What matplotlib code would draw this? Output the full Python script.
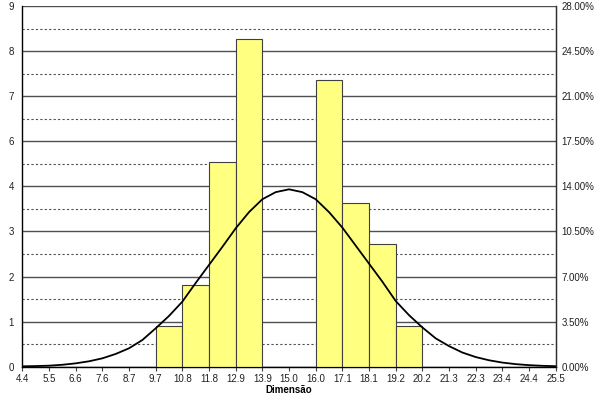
import numpy as np
import matplotlib
matplotlib.use("Agg")
import matplotlib.pyplot as plt
from matplotlib.ticker import FuncFormatter

plt.rcParams['font.family'] = ['Liberation Sans', 'DejaVu Sans']

# category labels along the x axis
x_labels = ['4.4', '5.5', '6.6', '7.6', '8.7', '9.7', '10.8', '11.8', '12.9', '13.9',
            '15.0', '16.0', '17.1', '18.1', '19.2', '20.2', '21.3', '22.3', '23.4',
            '24.4', '25.5']

# histogram: bin start index and frequency
bin_start = [5, 6, 7, 8, 9, 10, 11, 12, 13, 14]
freq = [1, 2, 5, 8, 0, 0, 7, 4, 3, 1]

# left axis labels as printed
left_max = 8.8
left_labels = ['0', '1', '2', '3', '4', '6', '7', '8', '9']

# normal curve (right axis, %), at half-category steps
curve_pos = [i * 0.5 for i in range(41)]
curve_pct = [0.03, 0.05, 0.08, 0.15, 0.26, 0.42, 0.65, 0.99, 1.43, 2.07,
             2.98, 3.94, 5.05, 6.5, 7.9, 9.3, 10.74, 12.0, 13.0, 13.55,
             13.77, 13.55, 13.0, 12.0, 10.8, 9.4, 8.0, 6.6, 5.1, 4.0,
             3.05, 2.2, 1.6, 1.1, 0.75, 0.5, 0.32, 0.2, 0.12, 0.07, 0.04]

fig = plt.figure(figsize=(6.0, 3.97), dpi=100)
ax = fig.add_axes([0.0372, 0.0763, 0.8890, 0.9086])

ax.bar(bin_start, freq, width=1.0, align='edge', color='#FFFF80',
       edgecolor='#404040', linewidth=0.8, zorder=3)

ax.set_xlim(0, 20)
ax.set_ylim(0, left_max)
major = np.linspace(0, left_max, 9)
ax.set_yticks(major)
ax.set_yticklabels(left_labels)
ax.set_yticks((major[:-1] + major[1:]) / 2, minor=True)
ax.grid(axis='y', which='major', color='#505050', linewidth=1.0, zorder=0)
ax.grid(axis='y', which='minor', color='#505050', linewidth=0.8,
        linestyle=(0, (2, 2)), zorder=0)
ax.set_axisbelow(True)

ax.set_xticks(range(len(x_labels)))
ax.set_xticklabels(x_labels)
ax.tick_params(axis='x', which='major', length=3, width=0.8, color='#404040',
               labelsize=7, labelcolor='#202020', pad=2)
ax.tick_params(axis='y', which='both', length=0, labelsize=7,
               labelcolor='#202020', pad=6)
ax.set_xlabel('Dimensão', fontsize=7, fontweight='bold', labelpad=1)

ax.spines['top'].set_visible(False)
for s in ['left', 'right', 'bottom']:
    ax.spines[s].set_color('#303030')
    ax.spines[s].set_linewidth(1.0)

ax2 = ax.twinx()
ax2.plot(curve_pos, curve_pct, color='black', linewidth=1.3,
         solid_joinstyle='round', zorder=5)
ax2.set_ylim(0, 28)
ax2.set_yticks(np.arange(0, 28.01, 3.5))
ax2.yaxis.set_major_formatter(FuncFormatter(lambda v, p: '%.2f%%' % v))
ax2.tick_params(axis='y', length=0, labelsize=7, labelcolor='#202020', pad=4)
ax2.spines['top'].set_visible(False)
ax2.spines['right'].set_color('#303030')

fig.savefig('out.png', dpi=100)
